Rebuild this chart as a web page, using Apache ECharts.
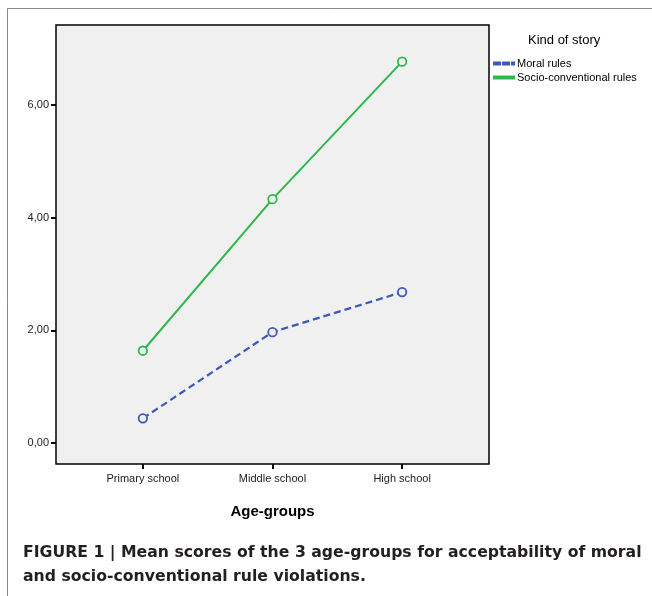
<!DOCTYPE html>
<html>
<head>
<meta charset="utf-8">
<script src="https://cdn.jsdelivr.net/npm/echarts@6/dist/echarts.min.js"></script>
<style>
html,body{margin:0;padding:0;background:#fff;}
#chart{width:652px;height:596px;}
</style>
</head>
<body>
<div id="chart"></div>
<script>
const categories = ['Primary school', 'Middle school', 'High school'];
const moralRules = [0.44, 1.97, 2.68];
const socioConventionalRules = [1.64, 4.33, 6.77];
const yTicks = [0, 2, 4, 6];
const seriesNames = ['Moral rules', 'Socio-conventional rules'];

const toPairs = arr => arr.map((v, i) => [i, v]);
const fmt = v => v.toFixed(2).replace('.', ',');

const blue = '#3d58b8';
const green = '#2db84a';

const chart = echarts.init(document.getElementById('chart'));
const axisLineStyle = { color: '#000', width: 2 };
chart.setOption({
  animation: false,
  grid: {
    left: 56, right: 163, top: 25, bottom: 132,
    show: true, backgroundColor: '#f0f0f0', borderColor: '#000', borderWidth: 1.5
  },
  xAxis: {
    type: 'value', min: -0.67, max: 2.67,
    name: 'Age-groups', nameLocation: 'middle', nameGap: 40,
    nameTextStyle: { fontFamily: 'Liberation Sans', fontWeight: 'bold', fontSize: 15, color: '#000' },
    splitLine: { show: false },
    axisLine: { show: false, onZero: false },
    axisTick: { show: true, customValues: [0, 1, 2], length: 5, inside: false, lineStyle: axisLineStyle },
    axisLabel: {
      customValues: [0, 1, 2], margin: 9,
      formatter: v => categories[Math.round(v)] || '',
      fontFamily: 'Liberation Sans', fontSize: 11, color: '#222'
    }
  },
  yAxis: {
    type: 'value', min: -0.37, max: 7.42,
    splitLine: { show: false },
    axisLine: { show: false, onZero: false },
    axisTick: { show: true, customValues: yTicks, length: 5, lineStyle: axisLineStyle },
    axisLabel: {
      customValues: yTicks, margin: 7,
      formatter: v => fmt(v),
      fontFamily: 'Liberation Sans', fontSize: 11, color: '#222'
    }
  },
  legend: {
    data: [
      { name: seriesNames[0], icon: 'path://M0,0H6V2H0Z M9,0H15V2H9Z M18,0H20V2H18Z' },
      { name: seriesNames[1], icon: 'path://M0,0H20V2H0Z' }
    ],
    orient: 'vertical', left: 493, top: 58,
    itemWidth: 20, itemHeight: 2, itemGap: 3, padding: 0,
    textStyle: { fontFamily: 'Liberation Sans', fontSize: 11, color: '#000', padding: [0, 0, 0, -2] }
  },
  series: [
    {
      name: seriesNames[0], type: 'line', data: toPairs(moralRules),
      symbol: 'circle', symbolSize: 8.5,
      lineStyle: { color: blue, width: 2.2, type: [7, 4] },
      itemStyle: { color: blue, borderColor: blue, borderWidth: 1.8 }
    },
    {
      name: seriesNames[1], type: 'line', data: toPairs(socioConventionalRules),
      symbol: 'circle', symbolSize: 8.5,
      lineStyle: { color: green, width: 2 },
      itemStyle: { color: green, borderColor: green, borderWidth: 1.8 }
    }
  ],
  graphic: [
    { type: 'line', shape: { x1: 7.5, y1: 8.5, x2: 652, y2: 8.5 }, style: { stroke: '#888', lineWidth: 1 } },
    { type: 'line', shape: { x1: 7.5, y1: 8.5, x2: 7.5, y2: 596 }, style: { stroke: '#888', lineWidth: 1 } },
    { type: 'text', left: 528, top: 34, style: { text: 'Kind of story', fontFamily: 'Liberation Sans', fontSize: 13, fill: '#000' } },
    { type: 'text', left: 23, top: 541, style: { text: 'FIGURE 1 | Mean scores of the 3 age-groups for acceptability of moral\nand socio-conventional rule violations.', fontFamily: 'DejaVu Sans', fontWeight: 'bold', fontSize: 15.7, lineHeight: 24, fill: '#231f20' } }
  ]
});
// open circle markers filled with the plot background
chart.setOption({
  series: [
    { itemStyle: { color: '#f0f0f0' } },
    { itemStyle: { color: '#f0f0f0' } }
  ]
});
</script>
</body>
</html>
